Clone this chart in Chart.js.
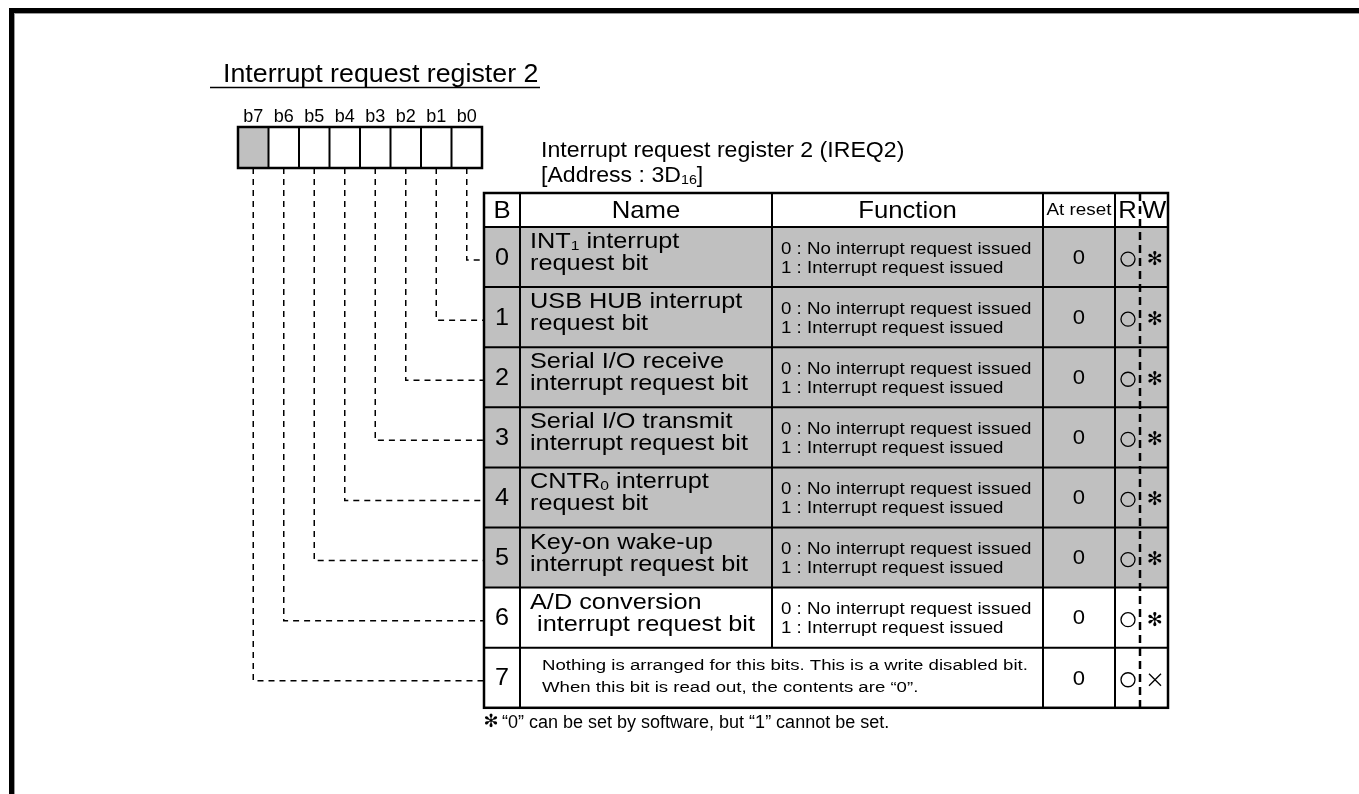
<!DOCTYPE html>
<html>
<head>
<meta charset="utf-8">
<script src="https://cdn.jsdelivr.net/npm/chart.js@4.4.1/dist/chart.umd.min.js"></script>
<style>
  html, body { margin: 0; padding: 0; background: #fff; }
  #wrap { width: 1359px; height: 794px; position: relative; }
</style>
</head>
<body>
<div id="wrap"><canvas id="regChart"></canvas></div>
<script>
// Nội dung thanh ghi IREQ2
const titleText = 'Interrupt request register 2';
const registerName = 'Interrupt request register 2 (IREQ2)';
const registerAddress = '[Address : 3D_{16}]';
const bitLabels = ['b7', 'b6', 'b5', 'b4', 'b3', 'b2', 'b1', 'b0'];
const unusedBits = [7];
const headerLabels = ['B', 'Name', 'Function', 'At reset', 'R', 'W'];
const bitNumbers = ['0', '1', '2', '3', '4', '5', '6', '7'];
const bitNames = [
  ['INT_{1} interrupt', 'request bit'],
  ['USB HUB interrupt', 'request bit'],
  ['Serial I/O receive', 'interrupt request bit'],
  ['Serial I/O transmit', 'interrupt request bit'],
  ['CNTR_{0} interrupt', 'request bit'],
  ['Key-on wake-up', 'interrupt request bit'],
  ['A/D conversion', ' interrupt request bit'],
  null
];
const functionLines = ['0 : No interrupt request issued', '1 : Interrupt request issued'];
const bitFunctions = [functionLines, functionLines, functionLines, functionLines,
  functionLines, functionLines, functionLines, null];
const unusedNote = [
  'Nothing is arranged for this bits. This is a write disabled bit.',
  'When this bit is read out, the contents are \u201c0\u201d.'
];
const resetValues = ['0', '0', '0', '0', '0', '0', '0', '0'];
const readMarks = ['o', 'o', 'o', 'o', 'o', 'o', 'o', 'o'];
const writeMarks = ['*', '*', '*', '*', '*', '*', '*', 'x'];
const shadedRows = [true, true, true, true, true, true, false, false];
const footnoteText = '\u201c0\u201d can be set by software, but \u201c1\u201d cannot be set.';

// Bố cục (pixel)
const W = 1359, H = 794;
const FONT = '"Liberation Sans", Arial, Helvetica, sans-serif';
const GREY = '#c0c0c0';
const BOX_LEFT = 238, BOX_TOP = 127, BOX_H = 41, BOX_CELL = 30.5;
const COLS = [484, 520, 772, 1043, 1115, 1140, 1168];
const HEAD_TOP = 193, ROW_TOP = 227, ROW_H = 60.1;

// đổi pixel dọc sang đơn vị hàng
const toRow = p => (p - ROW_TOP) / ROW_H;
const bitCenterX = b => BOX_LEFT + (7 - b) * BOX_CELL + BOX_CELL / 2;

// đường nối nét đứt từ từng bit tới hàng của nó
const connectorSets = bitNumbers.map((n, i) => {
  const y = i + 0.5 + 3 / ROW_H;
  return {
    type: 'line',
    data: [
      { x: bitCenterX(i), y: toRow(BOX_TOP + BOX_H) },
      { x: bitCenterX(i), y: y },
      { x: COLS[0], y: y }
    ],
    showLine: true,
    borderColor: '#000',
    borderWidth: 1.5,
    borderDash: [6, 5],
    pointRadius: 0,
    tension: 0,
    fill: false
  };
});

// chữ có chỉ số dưới, giãn ngang sx
function richText(ctx, text, x, baseline, size, align, sx) {
  sx = sx || 1;
  const parts = [];
  const re = /_\{([^}]*)\}/g;
  let last = 0, m;
  while ((m = re.exec(text)) !== null) {
    if (m.index > last) parts.push({ t: text.slice(last, m.index), sub: false });
    parts.push({ t: m[1], sub: true });
    last = re.lastIndex;
  }
  if (last < text.length) parts.push({ t: text.slice(last), sub: false });
  const subSize = size * 0.62;
  let total = 0;
  parts.forEach(p => {
    ctx.font = (p.sub ? subSize : size) + 'px ' + FONT;
    p.w = ctx.measureText(p.t).width * sx;
    total += p.w;
  });
  let cx = align === 'center' ? x - total / 2 : x;
  ctx.textAlign = 'left';
  ctx.textBaseline = 'alphabetic';
  parts.forEach(p => {
    ctx.font = (p.sub ? subSize : size) + 'px ' + FONT;
    ctx.save();
    ctx.translate(cx, p.sub ? baseline + size * 0.08 : baseline);
    ctx.scale(sx, 1);
    ctx.fillText(p.t, 0, 0);
    ctx.restore();
    cx += p.w;
  });
}

function text(ctx, t, x, y, size, align, sx) {
  ctx.font = size + 'px ' + FONT;
  ctx.textAlign = align || 'center';
  ctx.textBaseline = 'middle';
  ctx.save();
  ctx.translate(x, y);
  ctx.scale(sx || 1, 1);
  ctx.fillText(t, 0, 0);
  ctx.restore();
}

const registerPlugin = {
  id: 'registerTable',
  afterDatasetsDraw(chart) {
    const ctx = chart.ctx;
    const xs = chart.scales.x, ys = chart.scales.y;
    const px = v => xs.getPixelForValue(v);
    const py = v => ys.getPixelForValue(v);
    ctx.save();
    ctx.fillStyle = '#000';
    ctx.strokeStyle = '#000';

    // khung ngoài
    ctx.fillRect(px(9), py(toRow(8)), px(W) - px(9), 5);
    ctx.fillRect(px(9), py(toRow(8)), 5, py(toRow(H)) - py(toRow(8)));
    ctx.fillStyle = '#9a9a9a';
    ctx.fillRect(px(14), py(toRow(13)), px(W) - px(14), 1);
    ctx.fillRect(px(14), py(toRow(13)), 1, py(toRow(H)) - py(toRow(13)));
    ctx.fillStyle = '#000';

    // tiêu đề
    richText(ctx, titleText, px(223), py(toRow(82)), 26.5, 'left', 1.01);
    ctx.lineWidth = 1.5;
    ctx.beginPath();
    ctx.moveTo(px(210), py(toRow(87.5)));
    ctx.lineTo(px(540), py(toRow(87.5)));
    ctx.stroke();

    // ô bit
    const bTop = py(toRow(BOX_TOP)), bBot = py(toRow(BOX_TOP + BOX_H));
    bitLabels.forEach((lab, k) => {
      const b = 7 - k;
      const l = px(BOX_LEFT + k * BOX_CELL), r = px(BOX_LEFT + (k + 1) * BOX_CELL);
      if (unusedBits.includes(b)) {
        ctx.fillStyle = GREY;
        ctx.fillRect(l, bTop, r - l, bBot - bTop);
        ctx.fillStyle = '#000';
      }
      richText(ctx, lab, (l + r) / 2, py(toRow(122)), 17.5, 'center', 1.03);
    });
    ctx.lineWidth = 2;
    for (let k = 1; k < 8; k++) {
      const x = px(BOX_LEFT + k * BOX_CELL);
      ctx.beginPath(); ctx.moveTo(x, bTop); ctx.lineTo(x, bBot); ctx.stroke();
    }
    ctx.lineWidth = 2.5;
    ctx.strokeRect(px(BOX_LEFT), bTop, px(BOX_LEFT + 8 * BOX_CELL) - px(BOX_LEFT), bBot - bTop);

    // tên thanh ghi, địa chỉ
    richText(ctx, registerName, px(541), py(toRow(157)), 22, 'left', 1.05);
    richText(ctx, registerAddress, px(541), py(toRow(182)), 22, 'left', 1.05);

    // nền các hàng
    const tTop = py(toRow(HEAD_TOP));
    const rowY = i => py(i);
    shadedRows.forEach((s, i) => {
      if (!s) return;
      ctx.fillStyle = GREY;
      ctx.fillRect(px(COLS[0]), rowY(i), px(COLS[6]) - px(COLS[0]), rowY(i + 1) - rowY(i));
    });
    ctx.fillStyle = '#000';

    // tiêu đề cột
    const hy = (tTop + rowY(0)) / 2 + 1;
    const colMid = c => (px(COLS[c]) + px(COLS[c + 1])) / 2;
    headerLabels.forEach((h, c) => {
      if (h === 'At reset') text(ctx, h, colMid(c), hy, 16, 'center', 1.18);
      else text(ctx, h, colMid(c), hy, 24, 'center', 1.07);
    });

    // nội dung hàng
    bitNumbers.forEach((n, i) => {
      const top = rowY(i), mid = (rowY(i) + rowY(i + 1)) / 2;
      text(ctx, n, colMid(0), mid + 1, 24, 'center', 1.05);
      if (bitNames[i]) {
        richText(ctx, bitNames[i][0], px(COLS[1] + 10), top + 21, 22, 'left', 1.15);
        richText(ctx, bitNames[i][1], px(COLS[1] + 10), top + 43, 22, 'left', 1.15);
        text(ctx, bitFunctions[i][0], px(COLS[2] + 9), top + 22, 17, 'left', 1.1);
        text(ctx, bitFunctions[i][1], px(COLS[2] + 9), top + 41, 17, 'left', 1.1);
      } else {
        text(ctx, unusedNote[0], px(COLS[1] + 22), top + 18, 15.5, 'left', 1.2);
        text(ctx, unusedNote[1], px(COLS[1] + 22), top + 40, 15.5, 'left', 1.2);
      }
      text(ctx, resetValues[i], colMid(3), mid + 1, 21, 'center', 1.05);
      // R
      if (readMarks[i] === 'o') {
        ctx.lineWidth = 1.3;
        ctx.beginPath();
        ctx.arc(px(1128), mid + 2, 7, 0, Math.PI * 2);
        ctx.stroke();
      }
      // W
      if (writeMarks[i] === '*') {
        ctx.font = '19px "DejaVu Sans", sans-serif';
        ctx.textAlign = 'center';
        ctx.textBaseline = 'middle';
        ctx.fillText('\u273b', px(1155), mid + 3);
      } else {
        ctx.lineWidth = 1.3;
        ctx.beginPath();
        ctx.moveTo(px(1149), mid - 4); ctx.lineTo(px(1161), mid + 8);
        ctx.moveTo(px(1161), mid - 4); ctx.lineTo(px(1149), mid + 8);
        ctx.stroke();
      }
    });

    // đường kẻ bảng
    const tBot = rowY(8);
    ctx.lineWidth = 2;
    for (let i = 0; i < 8; i++) {
      ctx.beginPath(); ctx.moveTo(px(COLS[0]), rowY(i)); ctx.lineTo(px(COLS[6]), rowY(i)); ctx.stroke();
    }
    [1, 2, 3, 4].forEach(c => {
      const yEnd = (c === 2) ? rowY(7) : tBot;
      ctx.beginPath(); ctx.moveTo(px(COLS[c]), tTop); ctx.lineTo(px(COLS[c]), yEnd); ctx.stroke();
    });
    ctx.lineWidth = 2.5;
    ctx.setLineDash([8, 5]);
    ctx.beginPath(); ctx.moveTo(px(COLS[5]), tTop); ctx.lineTo(px(COLS[5]), tBot); ctx.stroke();
    ctx.setLineDash([]);
    ctx.strokeRect(px(COLS[0]), tTop, px(COLS[6]) - px(COLS[0]), tBot - tTop);

    // chú thích
    ctx.font = '18px "DejaVu Sans", sans-serif';
    ctx.textAlign = 'center';
    ctx.textBaseline = 'middle';
    ctx.fillText('\u273b', px(491), tBot + 15);
    text(ctx, footnoteText, px(502), tBot + 15, 18, 'left', 1.0);

    ctx.restore();
  }
};

new Chart(document.getElementById('regChart'), {
  type: 'scatter',
  data: { datasets: connectorSets },
  options: {
    responsive: true,
    maintainAspectRatio: false,
    animation: false,
    devicePixelRatio: 1,
    events: [],
    layout: { padding: 0 },
    plugins: { legend: { display: false }, tooltip: { enabled: false } },
    scales: {
      x: { type: 'linear', display: false, min: 0, max: W },
      y: { type: 'linear', display: false, reverse: true, min: toRow(0), max: toRow(H) }
    }
  },
  plugins: [registerPlugin]
});
</script>
</body>
</html>
